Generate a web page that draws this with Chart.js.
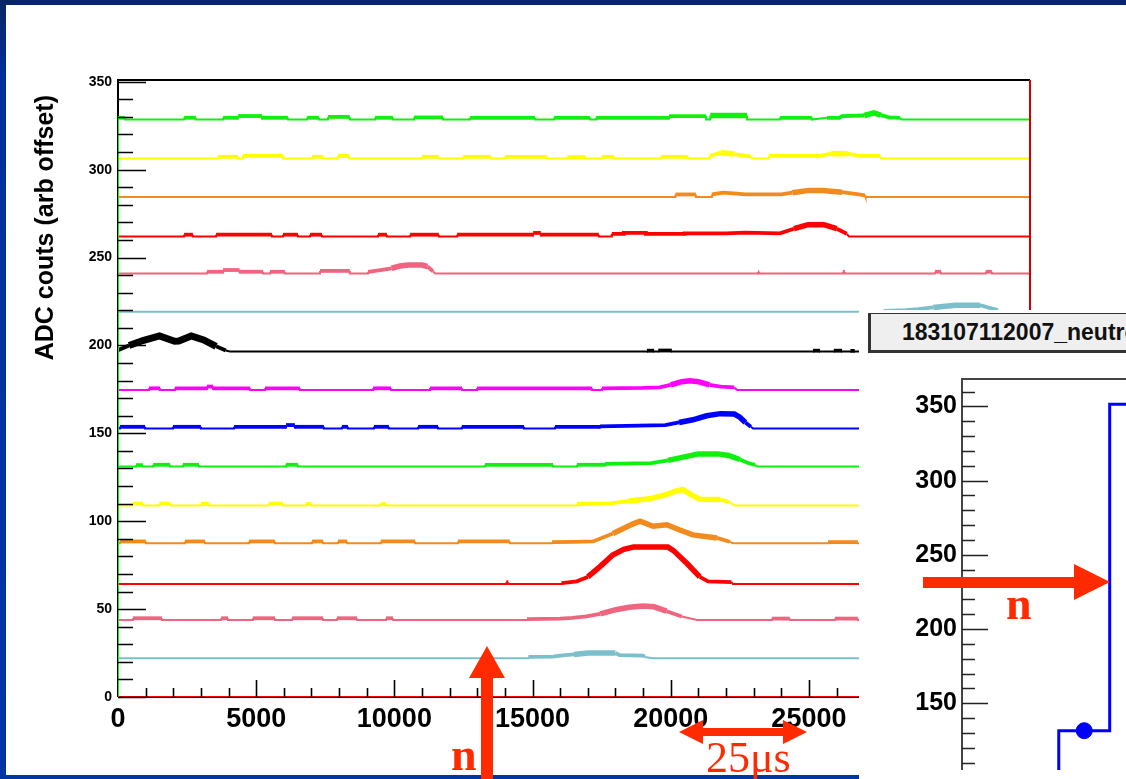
<!DOCTYPE html>
<html>
<head>
<meta charset="utf-8">
<title>ADC traces</title>
<script src="https://cdn.jsdelivr.net/npm/chart.js@4.4.1/dist/chart.umd.min.js"></script>
<style>
  html, body { margin: 0; padding: 0; width: 1126px; height: 779px; overflow: hidden; }
  body { position: relative; background: linear-gradient(#0a2566 0px, #00309a 80px, #0036a4 779px); }
  #slide { position: absolute; left: 6px; top: 5px; width: 1120px; height: 770px; background: #fff; }
  #traces { position: absolute; left: 0; top: 0; }
  #scope { position: absolute; left: 859px; top: 310px; width: 267px; height: 469px; background: #fff; }
  #scopeTitle {
    position: absolute; left: 868px; top: 313px; width: 300px; height: 36px;
    background: #efefef; border-top: 1px solid #333; border-left: 3px solid #333; border-bottom: 3px solid #333;
    font: bold 23px 'Liberation Sans', Arial, sans-serif; line-height: 36px; padding-left: 31px;
    white-space: nowrap; overflow: hidden; color: #111;
  }
  #inset { position: absolute; left: 860px; top: 360px; }
  #marks { position: absolute; left: 0; top: 0; }
</style>
</head>
<body>
<div id="slide"></div>
<canvas id="traces" width="1126" height="779"></canvas>
<div id="scope"></div>
<div id="scopeTitle">183107112007_neutron</div>
<canvas id="inset" width="330" height="419"></canvas>
<svg id="marks" width="1126" height="779">
  <g fill="#ff2a00">
    <polygon points="481,779 481,678 469,678 487,646 505,678 493,678 493,779"/>
    <polygon points="923,577 1074,577 1074,564 1110,582 1074,600 1074,588 923,588"/>
    <polygon points="679,732 703,720 703,728 783,728 783,720 807,732 783,744 783,736 703,736 703,744"/>
  </g>
  <g fill="#ff2a00" font-family="'Liberation Serif', 'Times New Roman', serif">
    <text x="451" y="770" font-size="46" font-weight="bold">n</text>
    <text x="1006" y="619" font-size="46" font-weight="bold">n</text>
    <text x="706" y="772" font-size="44">25μs</text>
  </g>
</svg>
<script>
// ---- waveform data (x in ADC samples, heights in ADC counts above each channel's offset) ----
var xMax = 33000;
var FONT = "'Liberation Sans', Arial, sans-serif";

var xTickValues = [0, 5000, 10000, 15000, 20000, 25000, 30000];
var yTickValues = [0, 50, 100, 150, 200, 250, 300, 350];
var insetTickValues = [150, 200, 250, 300, 350];

var channelOffsets = [328.5, 306.3, 284.4, 262.0, 240.9, 219.1, 196.5, 174.6, 152.7, 131.1, 109.0, 87.5, 64.3, 43.8, 22.0, 0];
var channelColors = ['#10f010', '#ffff00', '#f28a1e', '#ff0000', '#f0647f', '#7bbfca', '#000000', '#ff00ff',
                     '#0000ff', '#10f010', '#ffff00', '#f28a1e', '#ff0000', '#f0647f', '#7bbfca', '#ff0000'];

// baseline noise blocks: [start, end, height]
var noise0 = [[0, 250, 1], [2390, 2820, 1], [3800, 4340, 1], [4340, 5210, 2], [5210, 6150, 1], [6840, 7270, 1],
              [7600, 8390, 1.5], [9300, 9950, 1], [10710, 11760, 1.2], [12740, 15090, 1], [15780, 17080, 1],
              [17300, 19940, 1], [19940, 21280, 2], [21430, 22760, 2.3], [23950, 25110, 1]];
var noise1 = [[3620, 4340, 1], [4520, 5970, 1.5], [7020, 7420, 1], [7960, 8360, 1.5], [11000, 11610, 1],
              [12480, 13500, 1], [14000, 15520, 1], [16250, 16930, 0.8], [17510, 17950, 1], [19650, 20620, 1]];
var noise2 = [[20170, 20910, 1.5]];
var noise3 = [[2390, 2710, 1], [3550, 5570, 1], [5970, 6510, 1], [6950, 7380, 1], [9410, 9730, 1],
              [10570, 11610, 1], [12270, 15020, 1], [15020, 15300, 2], [15300, 17400, 1]];
var noise4 = [[3220, 3800, 1], [3800, 4400, 2], [4400, 5250, 1], [5500, 6040, 1], [7310, 8390, 1.5],
              [23160, 23200, 1], [26230, 26300, 1], [29560, 29780, 1], [31400, 31620, 1]];
var noise5 = [];
var noise6 = [[19140, 19400, 0.5], [19550, 20040, 0.6], [25150, 25400, 0.5], [25900, 26200, 0.5], [26500, 26660, 0.4]];
var noise7 = [[1120, 1520, 1], [2060, 3220, 1], [3220, 3440, 2], [3440, 4780, 1], [5320, 6580, 1],
              [9230, 9880, 1], [11290, 12450, 1], [12990, 17150, 1]];
var noise8 = [[70, 980, 1], [1990, 3000, 1], [4200, 6080, 1], [6080, 6400, 2], [6400, 7450, 1], [8100, 8320, 1],
              [9260, 9800, 1], [10860, 11580, 1], [12440, 14690, 1], [15810, 17440, 1]];
var noise9 = [[650, 910, 0.8], [1270, 1880, 1], [2350, 2930, 1], [6080, 6510, 1], [13280, 15740, 1], [16610, 17620, 1]];
var noise10 = [[540, 900, 1], [1500, 1900, 1], [3000, 3300, 0.8], [5460, 5970, 1], [6800, 7000, 0.8], [9500, 9700, 0.8]];
var noise11 = [[70, 1010, 1], [2420, 3150, 1], [4740, 5680, 1], [7020, 7420, 1], [7960, 8290, 1], [9510, 10750, 1],
               [12300, 14180, 1], [25690, 26770, 0.6]];
var noise12 = [[14050, 14120, 1]];
var noise13 = [[540, 1590, 1], [3730, 3980, 1], [4880, 5680, 1], [6300, 7420, 1], [7920, 8650, 1], [9700, 9950, 1],
               [23660, 24310, 0.8], [25940, 26770, 0.8]];
var noise14 = [];
var noise15 = [];

// pulse shapes: [x, height]
var pulse0 = [[25650, 1], [26100, 1], [26200, 2], [27000, 2.3], [27350, 3.8], [27600, 2.5], [27900, 1.2], [28300, 1], [28350, 0]];
var pulse1 = [[21420, 0], [21420, 1.5], [21800, 3.3], [22300, 2.6], [22700, 1.5], [22900, 1.2], [22950, 0],
              [23550, 0], [23550, 1.5], [25400, 1.5], [25800, 2.8], [26400, 2.8], [26800, 1.5], [27570, 1.5], [27600, 0]];
var pulse2 = [[21490, 0], [21490, 1.5], [21900, 2.5], [22400, 2], [22700, 1.5], [24000, 1.5], [24400, 2.5],
              [25000, 3.8], [25500, 3.8], [26200, 2.8], [26800, 1.5], [27030, 1], [27050, 0]];
var pulse3 = [[17870, 0], [17870, 1.5], [18300, 1.5], [18300, 2], [19100, 2], [19100, 1.5], [20500, 1.5], [20500, 1.8],
              [22000, 1.8], [22700, 2.2], [23950, 1.8], [24460, 4.4], [24970, 6.7], [25540, 6.7], [26010, 4.4],
              [26370, 1.5], [26450, 0]];
var pulse4 = [[9050, 0], [9050, 1], [9500, 2], [9900, 3], [10200, 4.3], [10500, 4.8], [11000, 4.8], [11200, 4], [11400, 1.2], [11480, 0]];
var pulse5 = [[27700, 0], [27700, 0.5], [28500, 1], [28950, 1.5], [29500, 2.5], [30290, 3.8], [31190, 3.8], [31600, 2], [31840, 1], [31900, 0]];
var pulse6 = [[0, 0.8], [400, 3.5], [900, 6.3], [1500, 8.9], [2050, 5.9], [2200, 6], [2650, 8.9], [3100, 6.6], [3550, 3], [3900, 0.6], [4050, 0]];
var pulse7 = [[17510, 0], [17510, 1], [19000, 1.2], [19600, 1.5], [20000, 3], [20400, 4.8], [20700, 5.3], [21000, 4.8],
              [21400, 3], [21800, 2], [22300, 1.5], [22400, 0]];
var pulse8 = [[17440, 0], [17440, 1.3], [19800, 2], [20300, 3.5], [20800, 5], [21300, 7.3], [21800, 8.5], [22300, 8.3],
              [22500, 6.5], [22700, 3.5], [22900, 1], [22980, 0]];
var pulse9 = [[17620, 0], [17620, 1.5], [19300, 2], [19900, 3.5], [20500, 5.5], [21000, 7.2], [21700, 7.2], [22100, 6.3],
              [22500, 4], [22800, 2], [23050, 1], [23120, 0]];
var pulse10 = [[16610, 0], [16610, 0.8], [17800, 1.2], [18500, 2.5], [19300, 4], [19800, 6], [20200, 8.3], [20450, 9],
               [20750, 6], [21060, 3.5], [21800, 3.3], [22100, 2], [22320, 0]];
var pulse11 = [[15700, 0], [15700, 0.6], [16500, 0.8], [17190, 1], [17910, 5.5], [18640, 11], [18890, 12.5], [19360, 9.6],
               [19860, 10.5], [20330, 7.5], [20800, 4.7], [21670, 3], [22140, 0.8], [22250, 0]];
var pulse12 = [[16050, 0], [16050, 0.5], [16600, 1.5], [17000, 4], [17450, 10], [17900, 16.5], [18300, 19.7], [18650, 21],
               [19900, 21], [20100, 19], [20600, 11.5], [21050, 4], [21350, 1.5], [22200, 1], [22250, 0]];
var pulse13 = [[14800, 0], [14800, 0.5], [16000, 0.8], [16450, 1.2], [16950, 2], [17450, 3.5], [18050, 6], [18500, 7.2],
               [19000, 8], [19400, 7.5], [19850, 5], [20400, 2], [20950, 0]];
var pulse14 = [[14850, 0], [14850, 0.8], [15750, 1], [16000, 1.5], [16500, 2.2], [17000, 3], [18000, 3], [18150, 1.8],
               [19000, 1.5], [19050, 0.8], [19350, 0]];
var pulse15 = [];

var noiseBlocks = [noise0, noise1, noise2, noise3, noise4, noise5, noise6, noise7,
                   noise8, noise9, noise10, noise11, noise12, noise13, noise14, noise15];
var pulses = [pulse0, pulse1, pulse2, pulse3, pulse4, pulse5, pulse6, pulse7,
              pulse8, pulse9, pulse10, pulse11, pulse12, pulse13, pulse14, pulse15];

// inset: one scope channel, histogram bins
var insetEdges = [0.9, 1.9, 2.9, 3.9];
var insetCounts = [80, 131.5, 351.5];

// ---- build a polyline for one channel ----
function traceData(offset, noise, pulse, fromZero) {
  var pts = [[0, 0]];
  noise.forEach(function (b) { pts.push([b[0], 0], [b[0], b[2]], [b[1], b[2]], [b[1], 0]); });
  pulse.forEach(function (p) { pts.push(p); });
  pts.push([xMax, 0]);
  pts.sort(function (a, b) { return a[0] - b[0]; });
  var out = pts.map(function (p) { return { x: p[0], y: offset + p[1] }; });
  // first bin edge of the top channel is drawn up from zero, along the y axis
  if (fromZero) out.unshift({ x: 0, y: 0 });
  return out;
}

var datasets = channelOffsets.map(function (off, i) {
  var wide = channelColors[i] === '#000000' ? 7 : 5.5;
  return {
    data: traceData(off, noiseBlocks[i], pulses[i], i === 0),
    borderColor: channelColors[i],
    borderWidth: 2,
    pointRadius: 0,
    segment: {
      borderWidth: function (c) {
        var h0 = c.p0.parsed.y - off, h1 = c.p1.parsed.y - off;
        if (h0 > 2 && h1 > 2) return wide;     // pulse body
        if (h0 > 0.05 && h1 > 0.05) return 3.8; // noise on the baseline
        return 2;
      }
    }
  };
});

function fixedTicks(values) {
  return function (s) { s.ticks = values.map(function (v) { return { value: v }; }); };
}

// ROOT style frame with inward ticks
var mainAxes = {
  id: 'mainAxes',
  beforeDatasetsDraw: function (chart) {
    var a = chart.chartArea, ctx = chart.ctx;
    ctx.save();
    ctx.strokeStyle = '#000';
    ctx.lineWidth = 2;
    ctx.beginPath();
    ctx.moveTo(a.left, a.bottom); ctx.lineTo(a.left, a.top); ctx.lineTo(a.right, a.top);
    ctx.moveTo(a.left, a.bottom); ctx.lineTo(a.right, a.bottom);
    ctx.stroke();
    ctx.restore();
  },
  afterDatasetsDraw: function (chart) {
    var a = chart.chartArea, ctx = chart.ctx, sx = chart.scales.x, sy = chart.scales.y;
    ctx.save();
    ctx.strokeStyle = '#000';
    ctx.lineWidth = 1.6;
    ctx.beginPath();
    for (var v = 0; v <= 350; v += 10) {
      var py = Math.round(sy.getPixelForValue(v)) + 0.5;
      ctx.moveTo(a.left, py); ctx.lineTo(a.left + (v % 50 === 0 ? 28 : 15), py);
    }
    for (var u = 1000; u < xMax; u += 1000) {
      var px = Math.round(sx.getPixelForValue(u)) + 0.5;
      ctx.moveTo(px, a.bottom); ctx.lineTo(px, a.bottom - (u % 5000 === 0 ? 17 : 9));
    }
    ctx.stroke();
    ctx.strokeStyle = '#d00000';
    ctx.lineWidth = 2;
    ctx.beginPath();
    ctx.moveTo(a.right, a.top); ctx.lineTo(a.right, a.bottom);
    ctx.stroke();
    // axis title, right aligned near the top of the axis
    ctx.fillStyle = '#000';
    ctx.font = 'bold 25px ' + FONT;
    ctx.translate(46, a.top + 15);
    ctx.rotate(-Math.PI / 2);
    ctx.textAlign = 'right';
    ctx.textBaseline = 'middle';
    ctx.fillText('ADC couts (arb offset)', 0, 0);
    ctx.restore();
  }
};

new Chart(document.getElementById('traces'), {
  type: 'line',
  data: { datasets: datasets },
  options: {
    responsive: false,
    animation: false,
    devicePixelRatio: 1,
    layout: { padding: { top: 80, right: 96, bottom: 0, left: 0 } },
    plugins: { legend: { display: false }, tooltip: { enabled: false } },
    scales: {
      x: {
        type: 'linear', min: 0, max: xMax,
        grid: { display: false, drawTicks: false }, border: { display: false },
        afterBuildTicks: fixedTicks(xTickValues),
        ticks: {
          autoSkip: false, maxRotation: 0, padding: 6, color: '#000',
          font: { family: FONT, size: 27, weight: 'bold' },
          callback: function (v) { return String(v); }
        },
        afterFit: function (s) { s.height = 82; s.paddingLeft = 0; s.paddingRight = 0; }
      },
      y: {
        type: 'linear', min: 0, max: 351,
        grid: { display: false, drawTicks: false }, border: { display: false },
        afterBuildTicks: fixedTicks(yTickValues),
        ticks: {
          autoSkip: false, padding: 6, color: '#000',
          font: { family: FONT, size: 14, weight: 'bold' },
          callback: function (v) { return String(v); }
        },
        afterFit: function (s) { s.width = 118; s.paddingTop = 0; s.paddingBottom = 0; }
      }
    }
  },
  plugins: [mainAxes]
});

// ---- inset: single channel histogram ----
var stepPts = [];
var markerPts = [];
insetCounts.forEach(function (c, i) {
  stepPts.push({ x: insetEdges[i], y: c }, { x: insetEdges[i + 1], y: c });
  markerPts.push({ x: (insetEdges[i] + insetEdges[i + 1]) / 2, y: c });
});

var insetAxes = {
  id: 'insetAxes',
  afterDatasetsDraw: function (chart) {
    var a = chart.chartArea, ctx = chart.ctx, sy = chart.scales.y;
    ctx.save();
    ctx.strokeStyle = '#444';
    ctx.lineWidth = 2;
    ctx.beginPath();
    ctx.moveTo(a.left, a.bottom); ctx.lineTo(a.left, a.top); ctx.lineTo(a.right, a.top);
    ctx.stroke();
    ctx.strokeStyle = '#222';
    ctx.lineWidth = 1.6;
    ctx.beginPath();
    for (var v = 110; v <= 360; v += 10) {
      var py = Math.round(sy.getPixelForValue(v)) + 0.5;
      ctx.moveTo(a.left, py); ctx.lineTo(a.left + (v % 50 === 0 ? 26 : 13), py);
    }
    ctx.stroke();
    ctx.restore();
  }
};

new Chart(document.getElementById('inset'), {
  type: 'line',
  data: {
    datasets: [
      { data: stepPts, borderColor: '#0000ff', borderWidth: 3, pointRadius: 0 },
      { data: markerPts, showLine: false, pointRadius: 8, pointBackgroundColor: '#0000ff', pointBorderColor: '#0000ff' }
    ]
  },
  options: {
    responsive: false,
    animation: false,
    devicePixelRatio: 1,
    layout: { padding: { top: 19, right: 0, bottom: 0, left: 0 } },
    plugins: { legend: { display: false }, tooltip: { enabled: false } },
    scales: {
      x: { type: 'linear', min: 0, max: 4.3, display: false },
      y: {
        type: 'linear', min: 105, max: 368.5,
        grid: { display: false, drawTicks: false }, border: { display: false },
        afterBuildTicks: fixedTicks(insetTickValues),
        ticks: {
          padding: 5, color: '#000',
          font: { family: FONT, size: 25, weight: 'bold' }
        },
        afterFit: function (s) { s.width = 102; s.paddingTop = 0; s.paddingBottom = 0; }
      }
    }
  },
  plugins: [insetAxes]
});
</script>
</body>
</html>
